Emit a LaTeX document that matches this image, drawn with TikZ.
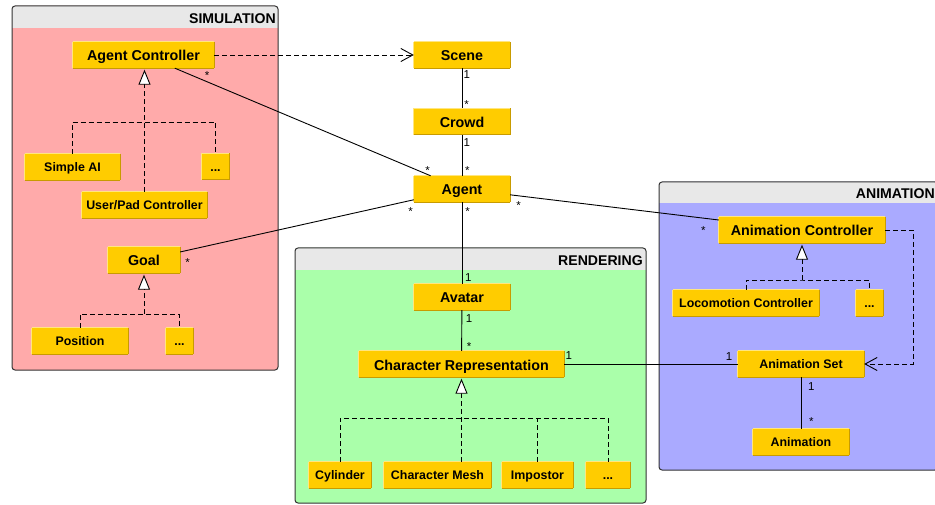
\documentclass[tikz,border=0pt]{standalone}
\usepackage{fontspec}
\setmainfont{Liberation Sans}
\usetikzlibrary{arrows.meta}
\definecolor{boxfill}{HTML}{FFCC00}
\definecolor{boxlight}{HTML}{FFE680}
\definecolor{boxdark}{HTML}{C89B00}
\definecolor{simfill}{HTML}{FFAAAA}
\definecolor{renfill}{HTML}{AAFFAA}
\definecolor{animfill}{HTML}{AAAAFF}
\definecolor{headfill}{HTML}{E8E8E8}
\definecolor{panelline}{HTML}{333333}
\tikzset{
  box/.style={fill=boxfill, inner sep=0pt, text=black,
    append after command={
      (\tikzlastnode.south west) edge[draw=boxlight,line width=1pt] (\tikzlastnode.north west)
      (\tikzlastnode.north west) edge[draw=boxlight,line width=1pt] (\tikzlastnode.north east)
      (\tikzlastnode.north east) edge[draw=boxdark,line width=1pt] (\tikzlastnode.south east)
      (\tikzlastnode.south west) edge[draw=boxdark,line width=1pt] (\tikzlastnode.south east)}},
  big/.style={box, font=\fontsize{14.3}{16}\selectfont\bfseries, text height=12pt, text depth=0pt},
  small/.style={box, font=\fontsize{12.4}{14}\selectfont\bfseries, text height=9.4pt, text depth=0pt},
  sz/.style 2 args={minimum width=#1pt, minimum height=#2pt},
  mult/.style={font=\fontsize{11.5}{12}\selectfont, inner sep=0pt},
  paneltitle/.style={font=\fontsize{14.1}{16}\selectfont\bfseries, inner sep=0pt, anchor=base east},
  panelborder/.style={draw=panelline, line width=1pt, rounded corners=3pt},
  assoc/.style={draw=black, line width=0.9pt},
  dashline/.style={draw=black, line width=0.9pt, dash pattern=on 5pt off 3pt},
  inh/.style={dashline, -{Triangle[length=15pt,width=12pt,fill=white,line width=0.9pt]}, shorten >=1.5pt},
  dep/.style={dashline, -{Straight Barb[length=12pt,width=13pt,line width=0.9pt]}}
}
\begin{document}
\begin{tikzpicture}[x=1pt,y=-1pt]
\useasboundingbox (0,0) rectangle (935,505);
\clip (0,0) rectangle (935,505);

% ---------- panels ----------
\fill[simfill, rounded corners=3pt] (12,6) rectangle (278,370);
\begin{scope}\clip[rounded corners=3pt] (12,6) rectangle (278,370);
  \fill[headfill] (12,6) rectangle (278,28);\end{scope}
\draw[panelborder] (12,6) rectangle (278,370);
\node[paneltitle] (tsim) at (276,23.3) {SIMULATION};

\fill[renfill, rounded corners=3pt] (295,248) rectangle (646,503);
\begin{scope}\clip[rounded corners=3pt] (295,248) rectangle (646,503);
  \fill[headfill] (295,248) rectangle (646,270);\end{scope}
\draw[panelborder] (295,248) rectangle (646,503);
\node[paneltitle] (tren) at (643,265.3) {RENDERING};

\fill[animfill, rounded corners=3pt] (659,182) rectangle (938,470);
\begin{scope}\clip[rounded corners=3pt] (659,182) rectangle (938,470);
  \fill[headfill] (659,182) rectangle (938,203);\end{scope}
\draw[panelborder] (659,182) rectangle (938,470);
\node[paneltitle] (tani) at (935,198.7) {ANIMATION};

% ---------- classes ----------
\node[big,sz={141}{26}] (ac) at (143.5,55) {Agent Controller};
\node[small,sz={95}{26}] (simpleai) at (72.5,167) {Simple AI};
\node[small,sz={27}{26}] (dots1) at (215.5,166.5) {...};
\node[small,sz={125}{26}] (upc) at (144.5,205) {User/Pad Controller};
\node[big,sz={72}{26}] (goal) at (144,260) {Goal};
\node[small,sz={96}{26}] (position) at (80,341) {Position};
\node[small,sz={27}{26}] (dots2) at (179.5,341) {...};

\node[big,sz={96}{26}] (scene) at (462,55) {Scene};
\node[big,sz={96}{26}] (crowd) at (462,121.5) {Crowd};
\node[big,sz={96}{26}] (agent) at (462,189) {Agent};

\node[big,sz={96}{26}] (avatar) at (462,297) {Avatar};
\node[big,sz={205}{26}] (cr) at (461.5,364) {Character Representation};
\node[small,sz={62}{26}] (cyl) at (340,475) {Cylinder};
\node[small,sz={107}{26}] (cm) at (437.5,475) {Character Mesh};
\node[small,sz={71}{26}] (imp) at (537.5,475) {Impostor};
\node[small,sz={44}{26}] (dots3) at (608,475) {...};

\node[big,sz={166}{26}] (anc) at (802,230) {Animation Controller};
\node[small,sz={146}{26}] (loco) at (746,303) {Locomotion Controller};
\node[small,sz={27}{26}] (dots4) at (869.5,303) {...};
\node[small,sz={126}{26}] (aset) at (801,364) {Animation Set};
\node[small,sz={96}{26}] (anim) at (801,442) {Animation};

% ---------- associations ----------
\draw[dep] (ac) -- (scene);
\draw[assoc] (scene) -- (crowd);
\draw[assoc] (crowd) -- (agent);
\draw[assoc] (ac) -- (agent);
\draw[assoc] (goal) -- (agent);
\draw[assoc] (agent) -- (anc);
\draw[assoc] (agent) -- (avatar);
\draw[assoc] (avatar) -- (cr);
\draw[assoc] (cr) -- (aset);
\draw[assoc] (aset) -- (anim);
\draw[dep] (anc.east) -- ++(28,0) |- (aset.east);

% ---------- generalisations ----------
\coordinate (j1) at (144.5,122);
\draw[inh] (upc.north) -- (upc.north |- ac.south);
\draw[dashline] (simpleai.north) |- (j1) -| (dots1.north);

\coordinate (j2) at (144,314);
\draw[inh] (j2) -- (goal.south);
\draw[dashline] (position.north) |- (j2) -| (dots2.north);

\coordinate (j3) at (461.5,418);
\draw[inh] (cm.north -| cr.south) -- (cr.south);
\draw[dashline] (cyl.north) |- (j3) -| (dots3.north);
\draw[dashline] (imp.north) -- (imp.north |- j3);

\coordinate (j4) at (802,280);
\draw[inh] (j4) -- (anc.south);
\draw[dashline] (loco.north) |- (j4) -| (dots4.north);

% ---------- multiplicities ----------
\node[mult] (m1) at (207,75.1) {*};
\node[mult] (m2) at (427.7,170.1) {*};
\node[mult] (m3) at (466.7,75) {1};
\node[mult] (m4) at (466.7,104.7) {*};
\node[mult] (m5) at (466.7,142.3) {1};
\node[mult] (m6) at (467.3,170.1) {*};
\node[mult] (m7) at (410.7,211.4) {*};
\node[mult] (m8) at (467.7,211.4) {*};
\node[mult] (m9) at (518.7,205.7) {*};
\node[mult] (m10) at (187.7,262.4) {*};
\node[mult] (m11) at (703.3,230.7) {*};
\node[mult] (m12) at (468.3,277.7) {1};
\node[mult] (m13) at (469,318.3) {1};
\node[mult] (m14) at (469,346.7) {*};
\node[mult] (m15) at (568.7,355.7) {1};
\node[mult] (m16) at (729,356.7) {1};
\node[mult] (m17) at (811.3,386.7) {1};
\node[mult] (m18) at (811.3,421.4) {*};
\end{tikzpicture}
\end{document}
